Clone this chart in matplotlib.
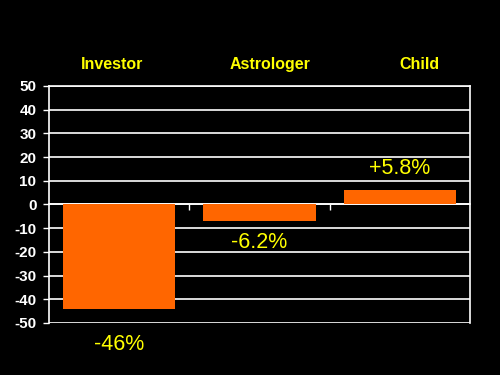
import matplotlib
matplotlib.use("Agg")
import matplotlib.pyplot as plt

# data
categories = ["Investor", "Astrologer", "Child"]
values = [-44, -7, 6]
value_labels = ["-46%", "-6.2%", "+5.8%"]

# label offsets in pixels (style, not data)
label_offsets = [-36, -21, 22]
title_shift = [-7.5, 10.5, 20]

plt.rcParams['font.family'] = ['Liberation Sans', 'DejaVu Sans']
plt.rcParams['axes.unicode_minus'] = False

fig = plt.figure(figsize=(5, 3.75), dpi=100, facecolor='black')
ax = fig.add_axes([0.098, 0.1387, 0.842, 0.632])
ax.set_facecolor('black')

x = list(range(len(categories)))
ax.bar(x, values, width=0.8, color='#FF6600', zorder=3)

ax.set_xlim(-0.5, len(categories) - 0.5)
ax.set_ylim(-50, 50)
ax.set_yticks(range(-50, 51, 10))
ax.yaxis.grid(True, color='white', linewidth=1.2, zorder=1)
ax.set_axisbelow(True)

# only the small ticks between categories on the zero line
ax.set_xticks([])
ax.set_xticks([0.5, 1.5], minor=True)
ax.tick_params(axis='x', which='minor', bottom=True, top=False,
               length=4, width=1, color='white', direction='out')
ax.tick_params(axis='y', length=4, width=1, color='white', pad=5,
               labelsize=11, labelcolor='white')
for t in ax.get_yticklabels():
    t.set_fontweight('bold')

ax.spines['bottom'].set_position(('data', 0))
for s in ax.spines.values():
    s.set_color('white')
    s.set_linewidth(1.2)

# category names above the plot
for xi, name, dx in zip(x, categories, title_shift):
    ax.annotate(name, (xi, 1), xycoords=ax.get_xaxis_transform(),
                xytext=(dx * 0.72, 21.5 * 0.72), textcoords='offset points',
                ha='center', va='center', color='#FFFF00', fontsize=11.5,
                fontweight='bold', annotation_clip=False)

# value labels
for xi, v, lab, off in zip(x, values, value_labels, label_offsets):
    ax.annotate(lab, (xi, v), xytext=(0, off * 0.72), textcoords='offset points',
                ha='center', va='center', color='#FFFF00', fontsize=15.5, zorder=4)

fig.savefig("out.png", dpi=100, facecolor='black')
